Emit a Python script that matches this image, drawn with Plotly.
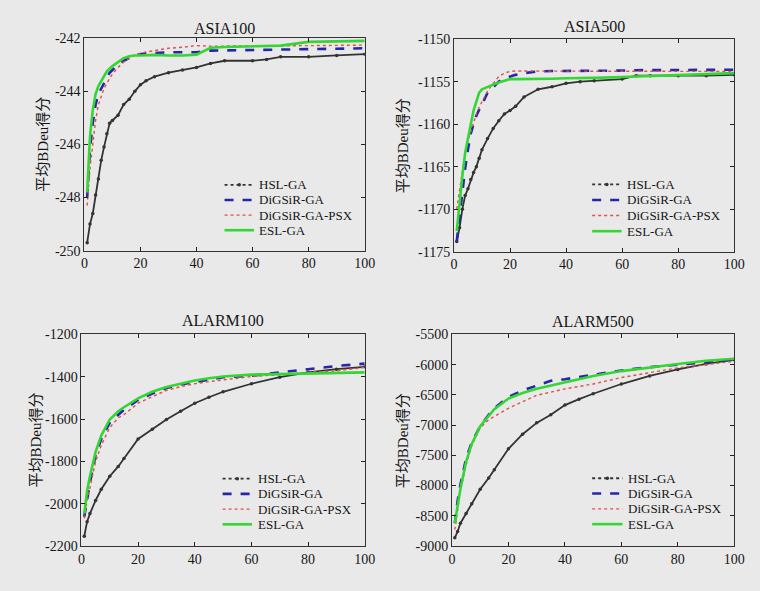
import plotly.graph_objects as go

# ---------------- data ----------------
X_ASIA = [1, 2, 3, 4, 5, 6, 7, 8, 9, 10, 12, 14, 16, 18, 20, 22, 25, 30, 35, 40, 45, 50, 60, 65, 70, 80, 90, 100]
X_ALARM = [1, 2, 3, 5, 7, 10, 13, 15, 20, 25, 30, 35, 40, 45, 50, 60, 70, 80, 90, 100]

SERIES = ["HSL-GA", "DiGSiR-GA", "DiGSiR-GA-PSX", "ESL-GA"]
PANELS = ["ASIA100", "ASIA500", "ALARM100", "ALARM500"]

asia100_hsl = [-249.7, -249.0, -248.6, -247.9, -247.3, -246.6, -246.1, -245.6, -245.2, -245.1, -244.9, -244.5, -244.3, -244.0,
               -243.75, -243.6, -243.45, -243.3, -243.2, -243.1, -242.95, -242.85, -242.85, -242.8, -242.7, -242.7, -242.65, -242.6]
asia100_digsir = [-248.0, -246.2, -245.2, -244.5, -244.1, -243.9, -243.7, -243.5, -243.3, -243.2, -243.0, -242.85, -242.75, -242.65,
                  -242.6, -242.58, -242.56, -242.53, -242.53, -242.53, -242.47, -242.46, -242.44, -242.43, -242.42, -242.4, -242.39, -242.38]
asia100_psx = [-248.3, -246.9, -246.0, -245.1, -244.5, -244.2, -243.9, -243.7, -243.5, -243.35, -243.1, -242.9, -242.75, -242.62,
               -242.58, -242.52, -242.47, -242.38, -242.34, -242.28, -242.3, -242.3, -242.3, -242.3, -242.3, -242.28, -242.27, -242.26]
asia100_esl = [-247.8, -245.7, -244.7, -244.1, -243.8, -243.6, -243.4, -243.25, -243.15, -243.05, -242.9, -242.75, -242.68, -242.65,
               -242.65, -242.64, -242.63, -242.65, -242.65, -242.62, -242.36, -242.33, -242.3, -242.3, -242.28, -242.14, -242.12, -242.1]

asia500_hsl = [-1173.8, -1172.2, -1170.0, -1168.4, -1167.6, -1166.5, -1165.7, -1165.0, -1164.0, -1163.0, -1161.7, -1160.5, -1159.6, -1158.8,
               -1158.4, -1157.9, -1156.8, -1155.9, -1155.6, -1155.2, -1155.0, -1154.9, -1154.7, -1154.3, -1154.3, -1154.3, -1154.3, -1154.2]
asia500_digsir = [-1173.8, -1170.7, -1167.6, -1165.2, -1163.0, -1161.1, -1160.0, -1159.0, -1158.3, -1157.7, -1156.3, -1155.6, -1155.0, -1154.6,
                  -1154.4, -1154.2, -1154.0, -1153.8, -1153.75, -1153.75, -1153.7, -1153.7, -1153.7, -1153.65, -1153.65, -1153.6, -1153.6, -1153.6]
asia500_psx = [-1170.0, -1167.6, -1165.3, -1163.4, -1161.9, -1160.8, -1159.8, -1158.8, -1158.0, -1157.3, -1156.1, -1155.2, -1154.4, -1154.0,
               -1153.8, -1153.75, -1153.75, -1153.8, -1153.8, -1153.8, -1153.8, -1153.8, -1153.8, -1153.8, -1153.8, -1153.8, -1153.8, -1153.8]
asia500_esl = [-1172.6, -1169.2, -1166.1, -1163.4, -1161.5, -1160.0, -1158.4, -1157.3, -1156.3, -1155.9, -1155.6, -1155.35, -1155.1, -1154.9,
               -1154.7, -1154.7, -1154.7, -1154.7, -1154.65, -1154.6, -1154.6, -1154.55, -1154.45, -1154.4, -1154.35, -1154.25, -1154.15, -1154.0]

alarm100_hsl = [-2154, -2085, -2047, -1985, -1932, -1870, -1824, -1786, -1694, -1648, -1602, -1563, -1525, -1497, -1471, -1433, -1402, -1379, -1364, -1353]
alarm100_digsir = [-2062, -1970, -1900, -1770, -1694, -1617, -1579, -1556, -1510, -1479, -1453, -1437, -1425, -1412, -1402, -1395, -1379, -1364, -1349, -1338]
alarm100_psx = [-2070, -1985, -1925, -1801, -1724, -1640, -1594, -1579, -1525, -1494, -1464, -1447, -1433, -1423, -1415, -1399, -1390, -1379, -1372, -1356]
alarm100_esl = [-2047, -1939, -1870, -1755, -1678, -1602, -1563, -1544, -1502, -1471, -1448, -1432, -1418, -1407, -1399, -1390, -1387, -1384, -1382, -1379]

alarm500_hsl = [-8865, -8760, -8624, -8463, -8302, -8061, -7874, -7740, -7392, -7151, -6963, -6829, -6668, -6570, -6481, -6320, -6186, -6079, -5988, -5918]
alarm500_digsir = [-8624, -8249, -7981, -7552, -7285, -7017, -6829, -6722, -6534, -6427, -6347, -6266, -6240, -6202, -6170, -6095, -6041, -5998, -5955, -5918]
alarm500_psx = [-8731, -8400, -8088, -7660, -7338, -7044, -6910, -6856, -6722, -6615, -6507, -6454, -6400, -6360, -6320, -6213, -6133, -6052, -5998, -5944]
alarm500_esl = [-8624, -8302, -8050, -7606, -7311, -7017, -6840, -6738, -6561, -6470, -6400, -6347, -6293, -6240, -6186, -6106, -6041, -5988, -5934, -5902]

Y_TICKS = [
    [-250, -248, -246, -244, -242],
    [-1175, -1170, -1165, -1160, -1155, -1150],
    [-2200, -2000, -1800, -1600, -1400, -1200],
    [-9000, -8500, -8000, -7500, -7000, -6500, -6000, -5500],
]
X_TICKS = [0, 20, 40, 60, 80, 100]
Y_LABEL = "平均BDeu得分"

panel_x = [X_ASIA, X_ASIA, X_ALARM, X_ALARM]
panel_data = [
    [asia100_hsl, asia100_digsir, asia100_psx, asia100_esl],
    [asia500_hsl, asia500_digsir, asia500_psx, asia500_esl],
    [alarm100_hsl, alarm100_digsir, alarm100_psx, alarm100_esl],
    [alarm500_hsl, alarm500_digsir, alarm500_psx, alarm500_esl],
]

# ---------------- layout helpers ----------------
W, H = 760, 591
BG = "#e9e9e9"
INK = "#161616"
FONT = "Liberation Serif, Times New Roman, Noto Sans CJK SC, serif"

# plot rectangles in pixels (left, right, top, bottom)
rects = [(82, 368, 32, 250), (459, 745, 33, 251), (79, 368, 336, 553), (457, 745, 336, 553)]
# legend: sample start, sample end, text start, first row centre, row step
legends = [(225, 255, 258, 182.5, 15.5), (600, 630, 634, 182, 16), (223, 253, 257, 484, 15.6), (600, 631, 635, 483.5, 15.7)]
ylabel_x = [40, 407, 33, 407]
title_y = [22, 20, 322, 323]

styles = [
    dict(color="#333333", width=1.8, dash="solid"),
    dict(color="#2626a8", width=2.6, dash="dash"),
    dict(color="#e0504a", width=1.4, dash="dot"),
    dict(color="#33d633", width=2.6, dash="solid"),
]
legend_dash = ["dot", "dash", "dot", "solid"]


def px(x):
    return x / W


def py(y):
    return 1 - y / H


fig = go.Figure()
annotations = []
shapes = []
layout = dict(
    width=W, height=H,
    margin=dict(l=0, r=0, t=0, b=0),
    paper_bgcolor=BG, plot_bgcolor=BG,
    font=dict(family=FONT, size=14, color=INK),
    showlegend=False,
)

for p in range(4):
    sfx = "" if p == 0 else str(p + 1)
    for s in range(4):
        tr = dict(
            x=panel_x[p], y=panel_data[p][s], name=SERIES[s],
            mode="lines", line=styles[s],
            xaxis="x" + sfx, yaxis="y" + sfx,
        )
        if s == 0:
            tr["mode"] = "lines+markers"
            tr["marker"] = dict(size=3.5, color="#333333")
        fig.add_trace(go.Scatter(**tr))

    l, r, t, b = rects[p]
    yt = Y_TICKS[p]
    layout["xaxis" + sfx] = dict(
        domain=[px(l), px(r)], anchor="y" + sfx, range=[0, 100],
        tickvals=X_TICKS, ticktext=[str(v) for v in X_TICKS],
        ticks="inside", ticklen=4, tickcolor="#222",
        showline=True, linecolor="#333", linewidth=1, mirror="ticks",
        showgrid=False, zeroline=False,
        tickfont=dict(family=FONT, size=14, color=INK),
    )
    layout["yaxis" + sfx] = dict(
        domain=[py(b), py(t)], anchor="x" + sfx, range=[yt[0], yt[-1]],
        tickvals=yt, ticktext=[str(v) for v in yt],
        ticks="inside", ticklen=4, tickcolor="#222",
        showline=True, linecolor="#333", linewidth=1, mirror="ticks",
        showgrid=False, zeroline=False,
        tickfont=dict(family=FONT, size=14, color=INK),
    )
    annotations.append(dict(
        text=PANELS[p], x=px((l + r) / 2), y=py(title_y[p]),
        xref="paper", yref="paper", showarrow=False,
        xanchor="center", yanchor="middle",
        font=dict(family=FONT, size=16, color=INK),
    ))
    annotations.append(dict(
        text=Y_LABEL, x=px(ylabel_x[p]), y=py((t + b) / 2),
        xref="paper", yref="paper", showarrow=False, textangle=-90,
        xanchor="center", yanchor="middle",
        font=dict(family=FONT, size=15, color=INK),
    ))

    # legend drawn by hand so the row spacing matches
    x0, x1, xt, y0, dy = legends[p]
    for s in range(4):
        yy = y0 + s * dy
        st = styles[s]
        shapes.append(dict(
            type="line", xref="paper", yref="paper",
            x0=px(x0), x1=px(x1), y0=py(yy), y1=py(yy),
            line=dict(color=st["color"], width=st["width"], dash=legend_dash[s]),
        ))
        if s == 0:
            xm = (x0 + x1) / 2
            shapes.append(dict(
                type="circle", xref="paper", yref="paper",
                x0=px(xm - 1.8), x1=px(xm + 1.8), y0=py(yy + 1.8), y1=py(yy - 1.8),
                fillcolor="#333333", line=dict(width=0),
            ))
        annotations.append(dict(
            text=SERIES[s], x=px(xt), y=py(yy),
            xref="paper", yref="paper", showarrow=False,
            xanchor="left", yanchor="middle",
            font=dict(family=FONT, size=13, color=INK),
        ))

layout["annotations"] = annotations
layout["shapes"] = shapes
fig.update_layout(**layout)
fig.write_html(
    "out.html",
    config={"displayModeBar": False},
    post_script="document.body.style.margin='0';document.body.style.background='" + BG + "';",
)
